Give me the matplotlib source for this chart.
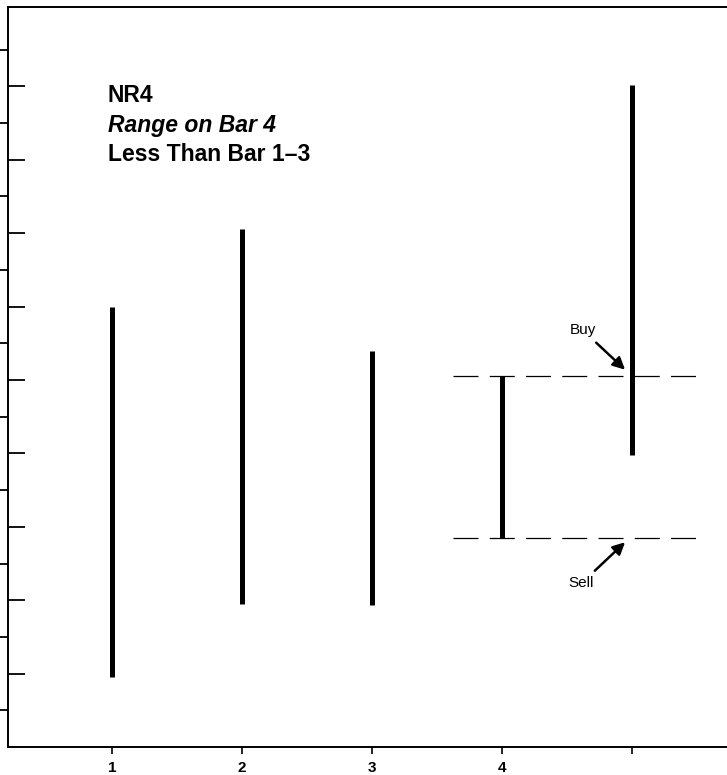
import matplotlib.pyplot as plt
from matplotlib.ticker import FixedLocator

# bar data (price units)
bar_x = [1, 2, 3, 4, 5]
highs = [6.0, 7.05, 5.4, 5.05, 9.02]
lows = [0.95, 1.95, 1.93, 2.85, 3.98]
tick_labels = ['1', '2', '3', '4', '']
major_y = [1, 2, 3, 4, 5, 6, 7, 8, 9]
minor_y = [0.5, 1.5, 2.5, 3.5, 4.5, 5.5, 6.5, 7.5, 8.5, 9.5]

# breakout levels from bar 4
buy_level = highs[3]
sell_level = lows[3]

plt.rcParams['font.family'] = ['Liberation Sans', 'DejaVu Sans']

fig = plt.figure(figsize=(7.27, 7.75), dpi=100)
ax = fig.add_axes([0.011, 0.036, 0.989, 0.955])

ax.vlines(bar_x, lows, highs, colors='black', linewidth=3.6, capstyle='butt')

# dashed entry levels
ax.hlines([buy_level, sell_level], 3.62, 5.52, colors='black', linewidth=0.9,
          linestyles=(0, (20, 9)))

ax.annotate('Buy', xy=(4.946, 5.14), xytext=(4.62, 5.68), fontsize=11,
            ha='center', va='center',
            arrowprops=dict(arrowstyle='-|>', color='black', lw=1.8,
                            mutation_scale=18, shrinkA=3, shrinkB=0))
ax.annotate('Sell', xy=(4.946, 2.79), xytext=(4.61, 2.23), fontsize=11,
            ha='center', va='center',
            arrowprops=dict(arrowstyle='-|>', color='black', lw=1.8,
                            mutation_scale=18, shrinkA=3, shrinkB=0))

# title text
tx = 0.139
ax.text(tx, 0.880, 'NR4', transform=ax.transAxes, fontsize=16.5,
        fontweight='bold', va='center')
ax.text(tx, 0.840, 'Range on Bar 4', transform=ax.transAxes, fontsize=16.5,
        fontweight='bold', style='italic', va='center')
ax.text(tx, 0.801, 'Less Than Bar 1–3', transform=ax.transAxes, fontsize=16.5,
        fontweight='bold', va='center')

ax.set_xlim(0.2, 5.73)
ax.set_ylim(0, 10.08)
ax.set_xticks(bar_x)
ax.set_xticklabels(tick_labels, fontsize=11, fontweight='bold')
ax.tick_params(axis='x', direction='out', length=5, width=1.2, pad=5)

ax.yaxis.set_major_locator(FixedLocator(major_y))
ax.yaxis.set_minor_locator(FixedLocator(minor_y))
ax.tick_params(axis='y', which='major', direction='in', length=12, width=1.3,
               labelleft=False)
ax.tick_params(axis='y', which='minor', direction='out', length=6, width=1.3)

ax.spines['right'].set_visible(False)
for s in ['left', 'bottom', 'top']:
    ax.spines[s].set_linewidth(1.4)

plt.savefig('out.png', dpi=100)
